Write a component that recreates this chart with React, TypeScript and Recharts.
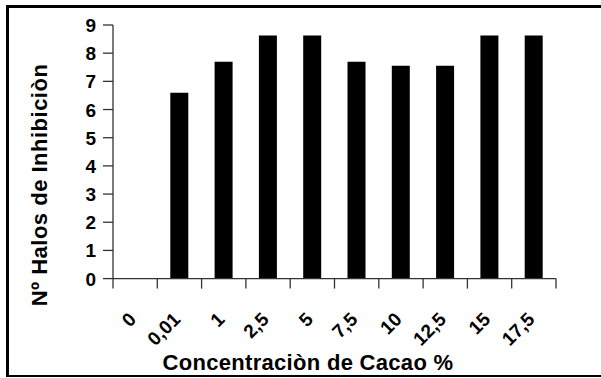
import React from "react";
import { BarChart, Bar, XAxis, YAxis } from "recharts";

const categories = ["0", "0,01", "1", "2,5", "5", "7,5", "10", "12,5", "15", "17,5"];
const halos = [0, 6.6, 7.7, 8.63, 8.63, 7.7, 7.55, 7.55, 8.63, 8.63];
const yTicks = [0, 1, 2, 3, 4, 5, 6, 7, 8, 9];

const data = categories.map((c, i) => ({ cat: c, value: halos[i] }));

const FONT = "'Liberation Sans', Arial, Helvetica, sans-serif";
const AXIS = "#333";

const XTick = (props: any) => {
  const { x, y, payload, index, visibleTicksCount } = props;
  const off = payload && payload.offset ? payload.offset : 22.15;
  const last = index === (visibleTicksCount ?? categories.length) - 1;
  return (
    <g>
      <line x1={x - off} y1={y} x2={x - off} y2={y + 10} stroke={AXIS} strokeWidth={1.3} />
      {last && <line x1={x + off} y1={y} x2={x + off} y2={y + 10} stroke={AXIS} strokeWidth={1.3} />}
      <text
        x={x + 2}
        y={y + 42}
        textAnchor="end"
        transform={`rotate(-45, ${x + 2}, ${y + 42})`}
        fontFamily={FONT}
        fontWeight="bold"
        fontSize={19}
        fill="#000"
      >
        {payload.value}
      </text>
    </g>
  );
};

const YTick = (props: any) => {
  const { x, y, payload } = props;
  return (
    <text
      x={x}
      y={y}
      dy={7}
      textAnchor="end"
      fontFamily={FONT}
      fontWeight="bold"
      fontSize={19}
      fill="#000"
    >
      {payload.value}
    </text>
  );
};

export default function App() {
  return (
    <div style={{ position: "absolute", left: 0, top: 0, width: 601, height: 378, background: "#fff" }}>
      <div
        style={{
          position: "absolute",
          left: 6,
          top: 5,
          width: 601 - 6,
          height: 378 - 5 - 1,
          borderLeft: "3px solid #000",
          borderTop: "3px solid #000",
          borderBottom: "2px solid #000",
          boxSizing: "border-box",
        }}
      />
      <div style={{ position: "absolute", left: 0, top: 0 }}>
        <BarChart
          width={601}
          height={378}
          data={data}
          margin={{ top: 25, right: 45, bottom: 0, left: 53 }}
        >
          <XAxis
            dataKey="cat"
            height={99.4}
            tickLine={false}
            tickSize={0}
            tickMargin={0}
            interval={0}
            axisLine={{ stroke: AXIS, strokeWidth: 1.3 }}
            tick={<XTick />}
            label={(p: any) => (
              <text
                x={308}
                y={370}
                textAnchor="middle"
                fontFamily={FONT}
                fontWeight="bold"
                fontSize={22}
                letterSpacing={0.3}
                fill="#000"
              >
                Concentraciòn de Cacao %
              </text>
            )}
          />
          <YAxis
            width={60}
            domain={[0, 9]}
            ticks={yTicks}
            interval={0}
            tickSize={10}
            tickMargin={7}
            axisLine={{ stroke: AXIS, strokeWidth: 1.3 }}
            tickLine={{ stroke: AXIS, strokeWidth: 1.3 }}
            tick={<YTick />}
            label={(p: any) => (
              <text
                x={47}
                y={185}
                textAnchor="middle"
                transform="rotate(-90, 47, 185)"
                fontFamily={FONT}
                fontWeight="bold"
                fontSize={22}
                letterSpacing={0.5}
                fill="#000"
              >
                Nº Halos de Inhibiciòn
              </text>
            )}
          />
          <Bar dataKey="value" fill="#000" barSize={18} isAnimationActive={false} />
        </BarChart>
      </div>
    </div>
  );
}
